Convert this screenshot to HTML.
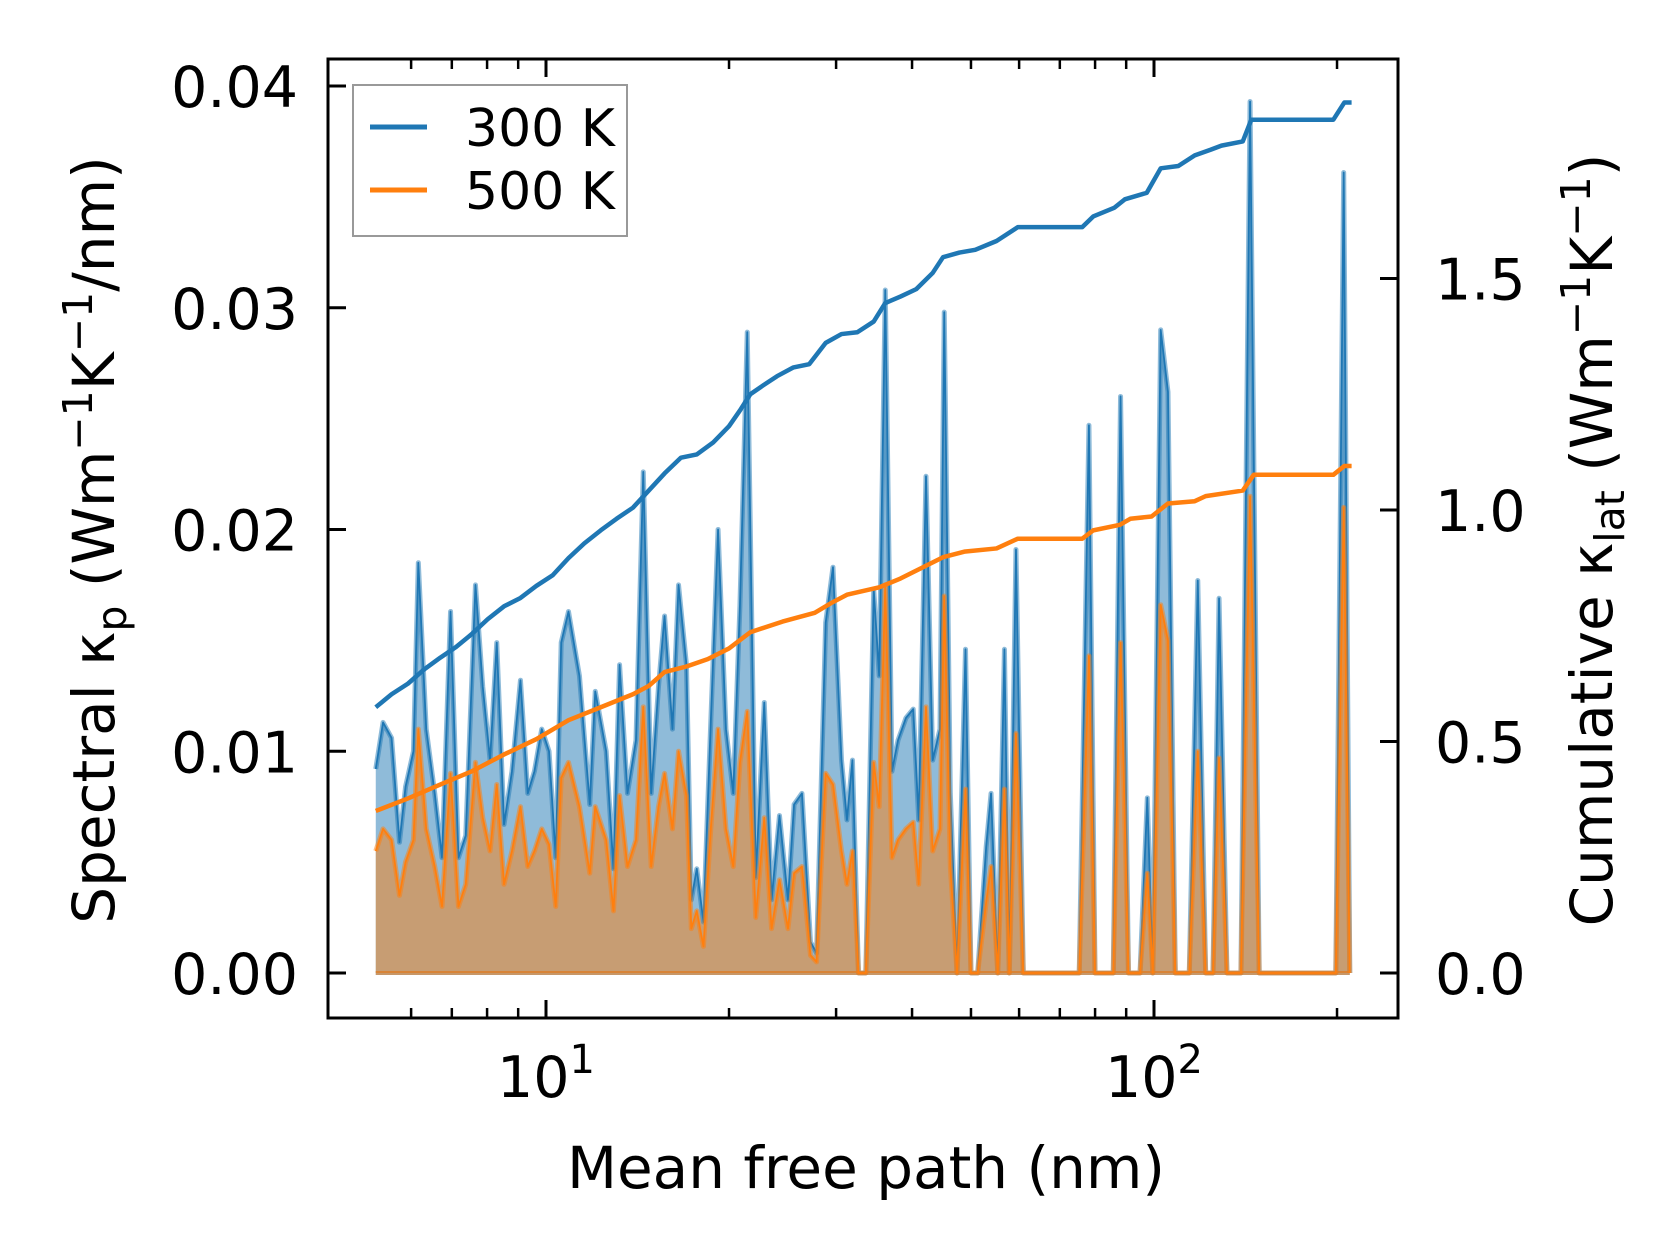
<!DOCTYPE html>
<html><head><meta charset="utf-8"><style>
html,body{margin:0;padding:0;background:#fff;}
svg{display:block;font-family:"DejaVu Sans","Liberation Sans",sans-serif;}
</style></head><body>
<svg id="chart" width="1679" height="1254" viewBox="0 0 1679 1254" xmlns="http://www.w3.org/2000/svg">
<g id="plot"></g>
<g id="axes"></g>
</svg>
<script>
// log10 of mean free path (nm) for spectral points
const mfpLog = [.720,.732,.746,.759,.769,.782,.790,.803,.817,.829,.843,.856,.868,.884,.896,.908,.919,.931,.944,.958,.970,.981,.993,1.005,1.016,1.025,1.037,1.055,1.072,1.081,1.099,1.111,1.121,1.134,1.148,1.160,1.173,1.185,1.195,1.208,1.218,1.231,1.239,1.248,1.259,1.271,1.283,1.296,1.308,1.319,1.331,1.345,1.359,1.371,1.384,1.398,1.408,1.421,1.435,1.445,1.460,1.472,1.486,1.495,1.504,1.514,1.526,1.539,1.548,1.558,1.569,1.579,1.592,1.604,1.613,1.625,1.636,1.648,1.655,1.665,1.676,1.690,1.699,1.710,1.724,1.732,1.743,1.754,1.762,1.773,1.785,1.798,1.877,1.893,1.903,1.917,1.933,1.945,1.958,1.977,1.989,1.998,2.011,2.023,2.035,2.058,2.072,2.085,2.097,2.107,2.120,2.143,2.158,2.173,2.299,2.312,2.322];
const spec300 = [.0092,.0113,.0106,.0059,.0084,.0100,.0185,.0110,.0081,.0052,.0163,.0052,.0062,.0175,.0129,.0096,.0149,.0067,.0091,.0132,.0081,.0091,.0110,.0100,.0052,.0149,.0163,.0134,.0076,.0127,.0100,.0047,.0139,.0081,.0105,.0226,.0081,.0129,.0161,.0110,.0175,.0139,.0033,.0047,.0023,.0113,.0200,.0110,.0081,.0166,.0289,.0043,.0122,.0033,.0071,.0033,.0076,.0081,.0014,.0009,.0158,.0183,.0096,.0069,.0096,0,0,.0173,.0134,.0308,.0091,.0105,.0115,.0119,.0069,.0224,.0096,.0110,.0298,.0081,0,.0146,0,0,.0057,.0081,0,.0146,0,.0191,0,0,0,.0247,0,0,0,.0260,0,0,.0079,0,.0290,.0262,0,0,.0177,0,0,.0169,0,0,.0393,0,0,.0361,0];
const spec500 = [.0055,.0065,.0060,.0035,.0050,.0060,.0110,.0065,.0048,.0030,.0090,.0030,.0040,.0095,.0070,.0055,.0085,.0040,.0055,.0075,.0048,.0055,.0065,.0058,.0030,.0088,.0095,.0075,.0045,.0075,.0060,.0028,.0080,.0048,.0060,.0120,.0048,.0075,.0090,.0065,.0100,.0080,.0020,.0028,.0012,.0065,.0110,.0065,.0048,.0095,.0118,.0025,.0070,.0020,.0042,.0020,.0045,.0048,.0008,.0005,.0090,.0085,.0055,.0040,.0055,0,0,.0095,.0075,.0175,.0052,.0060,.0065,.0068,.0040,.0120,.0055,.0065,.0170,.0048,0,.0083,0,0,.0032,.0048,0,.0083,0,.0108,0,0,0,.0143,0,0,0,.0149,0,0,.0045,0,.0166,.0150,0,0,.0100,0,0,.0097,0,0,.0215,0,0,.0210,0];
// cumulative curves (log10 mfp, value)
const cumLog300 = [.720,.746,.773,.799,.826,.852,.877,.904,.931,.958,.984,1.011,1.037,1.063,1.090,1.116,1.143,1.169,1.195,1.222,1.248,1.275,1.301,1.319,1.336,1.357,1.380,1.407,1.433,1.460,1.486,1.512,1.539,1.558,1.583,1.609,1.636,1.653,1.680,1.706,1.741,1.776,1.812,1.882,1.900,1.935,1.952,1.988,2.011,2.040,2.067,2.093,2.111,2.146,2.160,2.181,2.295,2.313,2.325];
const cum300 = [.574,.602,.625,.655,.681,.704,.731,.764,.792,.810,.836,.859,.896,.928,.956,.981,1.005,1.042,1.079,1.113,1.120,1.146,1.181,1.215,1.250,1.269,1.289,1.308,1.315,1.361,1.380,1.384,1.407,1.447,1.461,1.477,1.512,1.546,1.556,1.562,1.581,1.611,1.611,1.611,1.634,1.653,1.671,1.685,1.738,1.743,1.766,1.778,1.787,1.796,1.843,1.843,1.843,1.880,1.880];
const cumLog500 = [.720,.773,.826,.877,.931,.984,1.037,1.090,1.143,1.169,1.195,1.231,1.266,1.301,1.336,1.389,1.442,1.469,1.495,1.548,1.583,1.618,1.653,1.688,1.741,1.776,1.882,1.900,1.944,1.961,1.996,2.023,2.067,2.085,2.146,2.164,2.295,2.313,2.325];
const cum500 = [.350,.377,.407,.435,.472,.505,.546,.574,.602,.620,.650,.662,.678,.701,.736,.759,.778,.799,.817,.833,.852,.875,.898,.910,.917,.938,.938,.956,.968,.981,.986,1.014,1.019,1.030,1.042,1.076,1.076,1.095,1.095];
const leftTicks = ["0.00","0.01","0.02","0.03","0.04"];
const leftTickVals = [0,0.01,0.02,0.03,0.04];
const rightTicks = ["0.0","0.5","1.0","1.5"];
const rightTickVals = [0,0.5,1.0,1.5];

const L=328,R=1398,T=59,B=1018;
const X=lg=>546+(lg-1)*608;
const YL=v=>973-v*22175;
const YR=v=>973-v*463;
const NS="http://www.w3.org/2000/svg";
const plot=document.getElementById('plot'), axes=document.getElementById('axes');
function mk(tag,attrs,parent){const e=document.createElementNS(NS,tag);for(const k in attrs)e.setAttribute(k,attrs[k]);parent.appendChild(e);return e;}

function spectral(vals,color,fill,name){
  const n=Math.min(vals.length,mfpLog.length);
  let d=`M${X(mfpLog[0])},${YL(0)}`;
  let ln='';
  for(let i=0;i<n;i++){d+=` L${X(mfpLog[i])},${YL(vals[i])}`;ln+=(i?' L':'M')+X(mfpLog[i])+','+YL(vals[i]);}
  d+=` L${X(mfpLog[n-1])},${YL(0)} Z`;
  const a=mk('path',{d:d,fill:fill,stroke:'none'},plot);
  
  
  const b=mk('path',{d:ln,fill:'none',stroke:color,'stroke-width':5,'stroke-linejoin':'round','stroke-opacity':0.5},plot);
  
  
  const c=mk('path',{d:`M${X(mfpLog[0])},${YL(0)} L${X(mfpLog[n-1])},${YL(0)}`,stroke:color,'stroke-width':4,'stroke-opacity':0.55},plot);
  
  
  const d2=mk('path',{d:ln,fill:'none',stroke:color,'stroke-width':1.8,'stroke-linejoin':'round'},plot);
  
  
}
spectral(spec300,'#1f77b4','rgba(31,119,180,0.5)','spectral-300k');
spectral(spec500,'#ff7f0e','rgba(255,127,14,0.5)','spectral-500k');

function cum(xs,vs,color,name){
  let d='';const n=Math.min(xs.length,vs.length);
  for(let i=0;i<n;i++)d+=(i?' L':'M')+X(xs[i])+','+YR(vs[i]);
  const p=mk('path',{d:d,fill:'none',stroke:color,'stroke-width':4.5,'stroke-linejoin':'round'},plot);
  
  
}
cum(cumLog300,cum300,'#1f77b4','cumulative-300k');
cum(cumLog500,cum500,'#ff7f0e','cumulative-500k');

const fr=mk('rect',{x:L,y:T,width:R-L,height:B-T,fill:'none',stroke:'#000','stroke-width':3},axes);


leftTicks.forEach((t,i)=>{
  const y=YL(leftTickVals[i]);
  mk('line',{x1:L,x2:L+18,y1:y,y2:y,stroke:'#000','stroke-width':3},axes);
  const tx=mk('text',{x:298,y:y+21,'text-anchor':'end','font-size':57},axes);tx.textContent=t;
  
  
});
rightTicks.forEach((t,i)=>{
  const y=YR(rightTickVals[i]);
  mk('line',{x1:R-18,x2:R,y1:y,y2:y,stroke:'#000','stroke-width':3},axes);
  const tx=mk('text',{x:1435,y:y+21,'text-anchor':'start','font-size':57},axes);tx.textContent=t;
  
  
});
const minors=[6,7,8,9,20,30,40,50,60,70,80,90,200];
minors.forEach(m=>{const x=X(Math.log10(m));
  mk('line',{x1:x,x2:x,y1:B,y2:B-10,stroke:'#000','stroke-width':2.5},axes);
  mk('line',{x1:x,x2:x,y1:T,y2:T+10,stroke:'#000','stroke-width':2.5},axes);});
[1,2].forEach(e=>{const x=X(e);
  mk('line',{x1:x,x2:x,y1:B,y2:B-18,stroke:'#000','stroke-width':3},axes);
  mk('line',{x1:x,x2:x,y1:T,y2:T+18,stroke:'#000','stroke-width':3},axes);
  const tx=mk('text',{x:x,y:1097,'text-anchor':'middle','font-size':57},axes);
  
  
  tx.innerHTML='10<tspan dy="-24" font-size="40">'+e+'</tspan>';});
const xt=mk('text',{x:866,y:1188,'text-anchor':'middle','font-size':58},axes);xt.textContent='Mean free path (nm)';


const yt=mk('text',{transform:'translate(114,540) rotate(-90)','text-anchor':'middle','font-size':58},axes);
yt.innerHTML='Spectral κ<tspan dy="12" font-size="41">p</tspan><tspan dy="-12"> (Wm</tspan><tspan dy="-22" font-size="41">−1</tspan><tspan dy="22">K</tspan><tspan dy="-22" font-size="41">−1</tspan><tspan dy="22">/nm)</tspan>';


const yr=mk('text',{transform:'translate(1612,540) rotate(-90)','text-anchor':'middle','font-size':58},axes);
yr.innerHTML='Cumulative κ<tspan dy="12" font-size="41">lat</tspan><tspan dy="-12"> (Wm</tspan><tspan dy="-22" font-size="41">−1</tspan><tspan dy="22">K</tspan><tspan dy="-22" font-size="41">−1</tspan><tspan dy="22">)</tspan>';


const lg=mk('g',{},axes);


mk('rect',{x:353,y:85,width:274,height:151,fill:'#fff',stroke:'#999','stroke-width':2},lg);
[['300 K','#1f77b4',127],['500 K','#ff7f0e',190]].forEach(([t,c,y])=>{
  const l=mk('line',{x1:370,x2:427,y1:y,y2:y,stroke:c,'stroke-width':5},lg);
  
  
  const tx=mk('text',{x:465,y:y+19,'font-size':52},lg);tx.textContent=t;
  
  
});
</script>
</body></html>
